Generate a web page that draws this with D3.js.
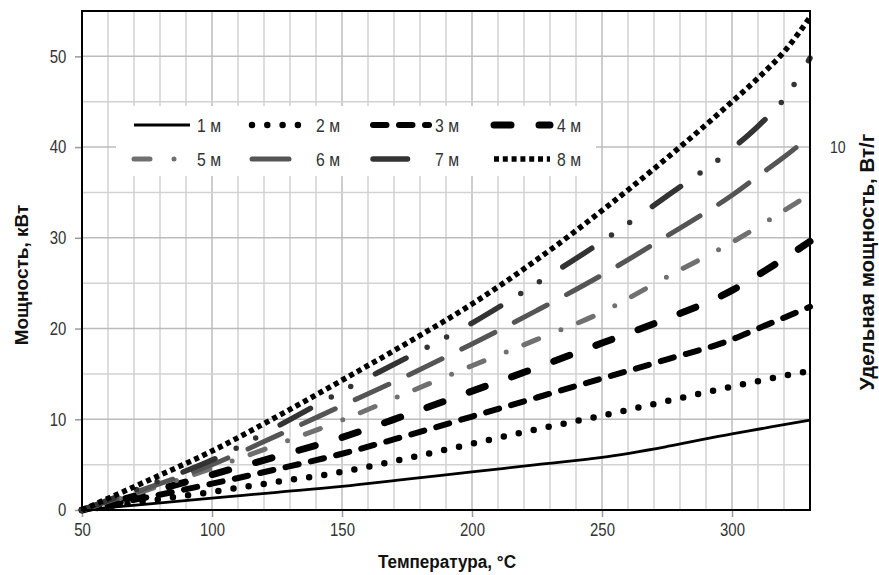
<!DOCTYPE html>
<html>
<head>
<meta charset="utf-8">
<script src="https://cdn.jsdelivr.net/npm/d3@7"></script>
<style>
  body { margin: 0; background: #fff; }
  svg text { font-family: "Liberation Sans Narrow", "Arial Narrow", "Liberation Sans", Arial, sans-serif; }
  .tick text { fill: #333; font-size: 18px; }
  .title { font-weight: bold; font-size: 19px; fill: #111; }
</style>
</head>
<body>
<svg width="879" height="575"></svg>
<script>
// temperature points, °C
var temps = [50, 75, 100, 125, 150, 175, 200, 225, 250, 275, 300, 310, 320, 330];

// power, kW, per cable length
var p1 = [0, 0.65, 1.3, 1.95, 2.6, 3.4, 4.2, 5.0, 5.8, 7.0, 8.4, 8.9, 9.4, 9.9];
var p2 = [0, 1.0, 2.0, 3.1, 4.2, 5.7, 7.3, 8.9, 10.4, 12.0, 13.6, 14.2, 14.8, 15.3];
var p3 = [0, 1.4, 2.9, 4.5, 6.2, 8.2, 10.3, 12.4, 14.5, 16.6, 18.8, 20.0, 21.2, 22.4];
var p4 = [0, 1.9, 3.9, 5.9, 8.0, 10.5, 13.1, 15.7, 18.4, 21.1, 24.2, 25.9, 27.7, 29.6];
var p5 = [0, 2.2, 4.6, 7.2, 9.9, 12.9, 15.9, 18.8, 21.8, 25.7, 29.5, 31.2, 33.0, 34.8];
var p6 = [0, 2.4, 5.0, 8.2, 11.5, 14.8, 18.3, 22.0, 25.9, 30.2, 34.7, 36.8, 38.9, 41.2];
var p7 = [0, 2.7, 5.5, 9.2, 13.1, 16.8, 20.6, 25.0, 29.6, 34.6, 39.8, 42.3, 45.3, 49.8];
var p8 = [0, 3.2, 6.5, 10.3, 14.3, 18.4, 22.7, 27.6, 33.0, 38.8, 45.0, 47.6, 50.5, 54.3];

var names = ["1 м", "2 м", "3 м", "4 м", "5 м", "6 м", "7 м", "8 м"];
var series = [p1, p2, p3, p4, p5, p6, p7, p8];

var xTicks = [50, 100, 150, 200, 250, 300];
var yTicks = [0, 10, 20, 30, 40, 50];
var rightTicks = [10];

// line styles, same order as names
var styles = [
  {color: "#000", width: 2.8, dash: null, cap: "butt"},
  {color: "#000", width: 6.5, dash: "0 15.3", cap: "round"},
  {color: "#000", width: 6, dash: "13.5 12.5", cap: "round"},
  {color: "#000", width: 7, dash: "17 28", cap: "round"},
  {color: "#707070", width: 5, dash: "16 24 0 19", cap: "round"},
  {color: "#555", width: 5, dash: "37 22", cap: "round"},
  {color: "#333", width: 5.5, dash: "34.5 23.75 0 22 0 27.75", cap: "round"},
  {color: "#000", width: 5.5, dash: "5 3.8", cap: "butt"}
];

var squeeze = "scale(0.83,1)"; // narrow look of the original labels

var margin = {top: 11, left: 82, right: 69, bottom: 65},
    width = 879 - margin.left - margin.right,
    height = 575 - margin.top - margin.bottom;

var svg = d3.select("svg")
  .append("g")
    .attr("transform", "translate(" + margin.left + "," + margin.top + ")");

var xScale = d3.scaleLinear().domain([50, 330]).range([0, width]);
var yScale = d3.scaleLinear().domain([0, 55]).range([height, 0]);
// secondary axis (W/g), 10 sits at 40 kW
var yRight = d3.scaleLinear().domain([0, 55 / 4]).range([height, 0]);

// grid
svg.append("g")
    .selectAll("line")
    .data(d3.range(60, 330, 10))
  .enter().append("line")
    .attr("x1", xScale).attr("x2", xScale)
    .attr("y1", 0).attr("y2", height)
    .attr("stroke", function(d) { return d % 50 == 0 ? "#bcbcbc" : "#d2d2d2"; })
    .attr("stroke-width", 1.5);

svg.append("g")
    .selectAll("line")
    .data(d3.range(5, 55, 5))
  .enter().append("line")
    .attr("x1", 0).attr("x2", width)
    .attr("y1", yScale).attr("y2", yScale)
    .attr("stroke", function(d) { return d % 10 == 0 ? "#bcbcbc" : "#d2d2d2"; })
    .attr("stroke-width", 1.5);

// axes
var xAxis = svg.append("g")
    .attr("transform", "translate(0," + height + ")")
    .call(d3.axisBottom(xScale).tickValues(xTicks).tickSize(7).tickPadding(6));
xAxis.select(".domain").remove();
xAxis.selectAll(".tick line").attr("stroke", "#999").attr("stroke-width", 1.5);
xAxis.selectAll(".tick text").attr("transform", squeeze);

var yAxis = svg.append("g")
    .call(d3.axisLeft(yScale).tickValues(yTicks).tickSize(7).tickPadding(12));
yAxis.select(".domain").remove();
yAxis.selectAll(".tick line").attr("stroke", "#999").attr("stroke-width", 1.5);
yAxis.selectAll(".tick text").attr("transform", squeeze);

var rAxis = svg.append("g")
    .attr("transform", "translate(" + width + ",0)")
    .call(d3.axisRight(yRight).tickValues(rightTicks).tickSize(0).tickPadding(24));
rAxis.select(".domain").remove();
rAxis.selectAll(".tick text").style("font-size", "17px").attr("transform", squeeze);

// curves
var line = d3.line()
    .x(function(d) { return xScale(d[0]); })
    .y(function(d) { return yScale(d[1]); })
    .curve(d3.curveMonotoneX);

svg.append("g")
    .selectAll("path")
    .data(series)
  .enter().append("path")
    .attr("d", function(s) { return line(temps.map(function(t, i) { return [t, s[i]]; })); })
    .attr("fill", "none")
    .attr("stroke", function(d, i) { return styles[i].color; })
    .attr("stroke-width", function(d, i) { return styles[i].width; })
    .attr("stroke-dasharray", function(d, i) { return styles[i].dash; })
    .attr("stroke-linecap", function(d, i) { return styles[i].cap; });

// frame
svg.append("rect")
    .attr("width", width).attr("height", height)
    .attr("fill", "none")
    .attr("stroke", "#000")
    .attr("stroke-width", 2);

// legend
var colX = [50, 168, 289, 410], labelX = [115, 234, 353, 475], rowY = [114, 148];
var legend = svg.append("g");
legend.append("rect")
    .attr("x", 34).attr("y", 95)
    .attr("width", 480).attr("height", 70)
    .attr("fill", "#fff");

var items = legend.selectAll(".legend")
    .data(names)
  .enter().append("g")
    .attr("class", "legend")
    .attr("transform", function(d, i) { return "translate(0," + rowY[Math.floor(i / 4)] + ")"; });

items.append("line")
    .attr("x1", function(d, i) { return colX[i % 4] + 2; })
    .attr("x2", function(d, i) { return colX[i % 4] + 58; })
    .attr("stroke", function(d, i) { return styles[i].color; })
    .attr("stroke-width", function(d, i) { return styles[i].width; })
    .attr("stroke-dasharray", function(d, i) { return styles[i].dash; })
    .attr("stroke-linecap", function(d, i) { return styles[i].cap; });

items.append("text")
    .attr("transform", function(d, i) { return "translate(" + labelX[i % 4] + ",0) " + squeeze; })
    .attr("dy", ".35em")
    .style("font-size", "19px")
    .style("fill", "#333")
    .text(function(d) { return d; });

// titles
svg.append("text")
    .attr("class", "title")
    .attr("transform", "translate(" + (width / 2 + 1) + "," + (height + 58) + ") scale(0.9,1)")
    .style("text-anchor", "middle")
    .text("Температура, °C");

svg.append("text")
    .attr("class", "title")
    .attr("transform", "rotate(-90)")
    .attr("x", -264)
    .attr("y", -54)
    .style("text-anchor", "middle")
    .text("Мощность, кВт");

svg.append("text")
    .attr("class", "title")
    .attr("transform", "rotate(-90)")
    .attr("x", -251)
    .attr("y", width + 64)
    .style("text-anchor", "middle")
    .style("font-size", "20.5px")
    .text("Удельная мощность, Вт/г");
</script>
</body>
</html>
